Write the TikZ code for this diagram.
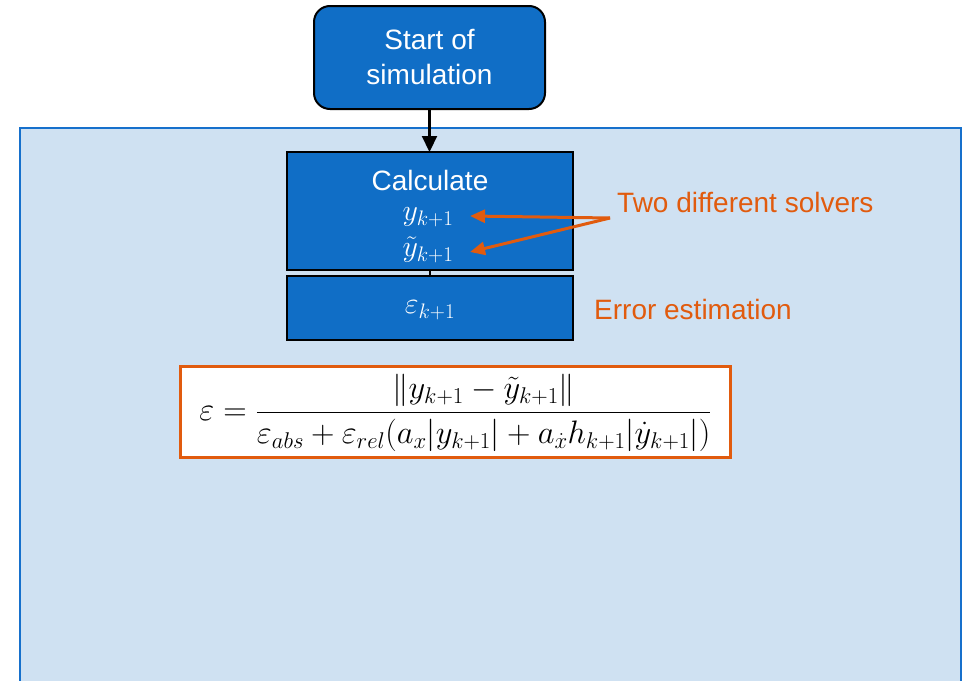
\RequirePackage{fix-cm}
\documentclass[tikz,border=0pt]{standalone}
\usepackage{amsmath}
\usepackage{fontspec}
\setmainfont{Liberation Sans}
\usetikzlibrary{arrows.meta}
\definecolor{boxblue}{HTML}{106EC6}
\definecolor{lightbg}{HTML}{CFE1F2}
\definecolor{frameblue}{HTML}{1670CC}
\definecolor{orng}{HTML}{E15B0E}
\tikzset{
  blk/.style={draw=black, line width=2pt, fill=boxblue, inner sep=0pt},
  wtxt/.style={text=white, font=\fontsize{28}{35}\selectfont, align=center, inner sep=0pt},
  wmath/.style={text=white, font=\fontsize{30}{36}\selectfont, inner sep=0pt},
  otxt/.style={text=orng, font=\fontsize{28}{35}\selectfont, inner sep=0pt},
  oarrow/.style={draw=orng, line width=3pt, -{Triangle[length=15pt,width=13pt]}},
  barrow/.style={draw=black, line width=2.2pt, -{Triangle[length=16pt,width=15pt]}},
}
\begin{document}
\begin{tikzpicture}[x=1pt,y=-1pt]
\clip (0,0) rectangle (966,680);
\fill[white] (0,0) rectangle (966,680);
% background frame
\draw[draw=frameblue, fill=lightbg, line width=2.5pt] (20,128) rectangle (961,700);
% start node
\draw[blk, rounded corners=16pt] (314,6) rectangle (545,109);
\node[wtxt] (start) at (429.5,57.5) {Start of\\simulation};
\coordinate (startb) at (429.5,109);
% calculate box
\draw[blk] (287,152) rectangle (573,270);
\coordinate (calct) at (429.5,152);
\node[wtxt] (calc) at (430,180) {Calculate};
\node[wmath] (y1) at (428,217) {$y_{k+1}$};
\node[wmath] (y2) at (428,250) {$\tilde{y}_{k+1}$};
\coordinate (calcb) at (429.5,270);
% error box
\draw[blk] (287,276) rectangle (573,340);
\coordinate (errt) at (429.5,276);
\node[wmath] (err) at (430,310) {$\varepsilon_{k+1}$};
\draw[black, line width=2pt] (calcb) -- (errt);
% start arrow
\draw[barrow] (startb) -- (calct);
% labels
\node[otxt, anchor=west] (lbl1) at (617,202) {Two different solvers};
\node[otxt, anchor=west] (lbl2) at (594,309) {Error estimation};
\coordinate (fork) at (610,218);
\draw[oarrow] (fork) -- (470,216);
\draw[oarrow] (fork) -- (470,252);
% formula
\draw[draw=orng, line width=3pt, fill=white] (180,366) rectangle (730,457);
\node[inner sep=0pt, font=\fontsize{32.5}{40}\selectfont] (form) at (455.5,413)
  {$\displaystyle \varepsilon=\frac{\| y_{k+1}-\tilde{y}_{k+1}\|}{\varepsilon_{abs}+\varepsilon_{rel}(a_x|y_{k+1}|+a_{\dot{x}}h_{k+1}|\dot{y}_{k+1}|)}$};
\end{tikzpicture}
\end{document}
